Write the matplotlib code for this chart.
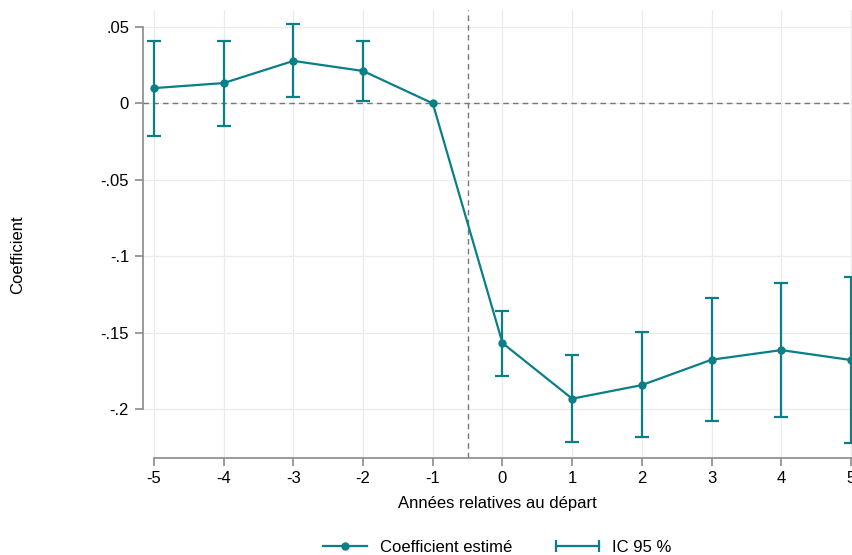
import matplotlib
matplotlib.use("Agg")
import matplotlib.pyplot as plt
from matplotlib.lines import Line2D
from matplotlib.legend_handler import HandlerLine2D

plt.rcParams["font.family"] = ["Liberation Sans", "DejaVu Sans"]

# event-study coefficients
years = [-5, -4, -3, -2, -1, 0, 1, 2, 3, 4, 5]
coef = [0.010, 0.0133, 0.0278, 0.0212, 0.0, -0.1568, -0.1932, -0.1843, -0.1677, -0.1614, -0.1679]
ci_low = [-0.0213, -0.0148, 0.0042, 0.0016, None, -0.1784, -0.2218, -0.2181, -0.2077, -0.2054, -0.2225]
ci_high = [0.0408, 0.0410, 0.0520, 0.0410, None, -0.1359, -0.1647, -0.1498, -0.1276, -0.1173, -0.1134]
yticks = [0.05, 0, -0.05, -0.1, -0.15, -0.2]
ytick_labels = [".05", "0", "-.05", "-.1", "-.15", "-.2"]

teal = "#0b7f88"
grey = "#8a8a8a"
fs = 12

fig = plt.figure(figsize=(8.52, 5.55), dpi=100)
ax = fig.add_axes([143 / 852, 1 - 458 / 555, 1 - 143 / 852, 448 / 555])

# grid
for t in years:
    ax.axvline(t, color="#ebebeb", lw=0.9, zorder=0)
for t in yticks:
    ax.axhline(t, color="#ebebeb", lw=0.9, zorder=0)

ax.axhline(0, color="#777777", lw=1, ls=(0, (4, 3)), zorder=1)
ax.axvline(-0.5, color="#777777", lw=1, ls=(0, (4, 3)), zorder=1)

# confidence intervals
ex = [x for x, l in zip(years, ci_low) if l is not None]
lo = [l for l in ci_low if l is not None]
hi = [h for h in ci_high if h is not None]
mid = [c for c, l in zip(coef, ci_low) if l is not None]
ax.errorbar(ex, mid, yerr=[[m - l for m, l in zip(mid, lo)], [h - m for m, h in zip(mid, hi)]],
            fmt="none", ecolor=teal, elinewidth=1.6, capsize=5, capthick=1.6, zorder=3)
ax.plot(years, coef, color=teal, lw=1.6, marker="o", ms=5, zorder=4)

ax.set_xlim(-5.158, 5.015)
ax.set_ylim(-0.232, 0.0611)
ax.set_xticks(years)
ax.set_xticklabels([str(y) for y in years])
ax.set_yticks(yticks)
ax.set_yticklabels(ytick_labels)

for s in ["top", "right"]:
    ax.spines[s].set_visible(False)
ax.spines["left"].set_bounds(-0.2, 0.05)
ax.spines["bottom"].set_bounds(-5, 5.015)
for s in ["left", "bottom"]:
    ax.spines[s].set_color(grey)
    ax.spines[s].set_linewidth(1.2)
ax.tick_params(axis="both", colors=grey, labelcolor="black", labelsize=fs, length=6, width=1.2)
ax.tick_params(axis="y", pad=4)

ax.set_xlabel("Années relatives au départ", fontsize=fs, labelpad=7)
fig.text(18 / 852, 1 - 255 / 555, "Coefficient", rotation=90, fontsize=fs, ha="center", va="center")

h1 = Line2D([0], [0], color=teal, lw=1.6, marker="o", ms=5)
h2 = Line2D([0], [0], color=teal, lw=1.6, marker="|", ms=9, mew=1.6)
ax.legend([h1, h2], ["Coefficient estimé", "IC 95 %"], ncol=2, frameon=False, fontsize=fs,
          loc="center", bbox_to_anchor=(0.5, -0.2), columnspacing=2.6, handlelength=2.6,
          handletextpad=0.8,
          handler_map={h2: HandlerLine2D(numpoints=2, marker_pad=0)})

fig.savefig("out.png", dpi=100)
